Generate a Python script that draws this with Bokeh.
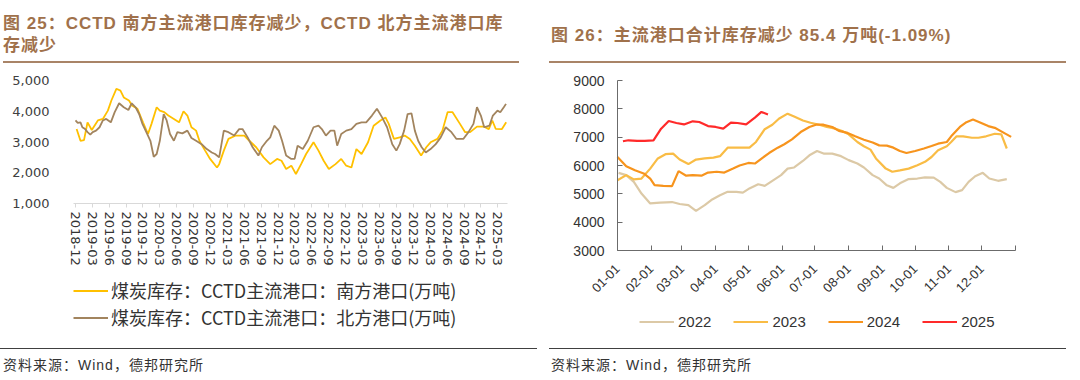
import math
import pandas as pd
from bokeh.plotting import figure
from bokeh.models import (Range1d, FixedTicker, NumeralTickFormatter, DatetimeTickFormatter,
                          Legend, LegendItem, Div)
from bokeh.layouts import row, column
from bokeh.embed import file_html
from bokeh.resources import INLINE

# ---------------- data: left chart (CCTD ports, 万吨) ----------------
south_dates = ["2018-12-07", "2018-12-28", "2019-01-16", "2019-02-04", "2019-02-27", "2019-04-01",
               "2019-04-28", "2019-05-25", "2019-06-13", "2019-07-10", "2019-08-01", "2019-08-19",
               "2019-09-16", "2019-10-04", "2019-11-01", "2019-12-01", "2019-12-28", "2020-01-16",
               "2020-02-13", "2020-03-01", "2020-03-25", "2020-04-16", "2020-05-16", "2020-06-13",
               "2020-07-07", "2020-07-28", "2020-08-19", "2020-09-13", "2020-10-01", "2020-11-01",
               "2020-11-28", "2021-01-04", "2021-01-16", "2021-02-10", "2021-03-07", "2021-04-16",
               "2021-06-01", "2021-06-28", "2021-08-04", "2021-09-13", "2021-10-19", "2021-11-25",
               "2021-12-19", "2022-01-13", "2022-02-10", "2022-03-07", "2022-04-04", "2022-05-01",
               "2022-06-10", "2022-07-07", "2022-08-04", "2022-09-01", "2022-10-07", "2022-11-07",
               "2022-12-04", "2023-01-01", "2023-01-28", "2023-02-25", "2023-04-01", "2023-05-01",
               "2023-06-07", "2023-07-04", "2023-07-22", "2023-08-19", "2023-09-19", "2023-10-16",
               "2023-11-13", "2023-12-10", "2024-01-13", "2024-02-10", "2024-03-04", "2024-04-10",
               "2024-05-07", "2024-06-04", "2024-07-01", "2024-08-10", "2024-09-07", "2024-10-04",
               "2024-11-10", "2024-12-19", "2025-01-13", "2025-02-01", "2025-02-19", "2025-03-25",
               "2025-04-17"]
south_vals = [3420, 3040, 3060, 3640, 3390, 3700,
              3750, 4020, 4350, 4730, 4670, 4450,
              4350, 4180, 4080, 3640, 3260, 3590,
              4130, 4020, 3970, 3860, 3750, 3640,
              4000, 3860, 3480, 3370, 3040, 2720,
              2450, 2170, 2280, 2720, 3100, 3210,
              3210, 3040, 2830, 2500, 2280, 2450,
              2390, 2120, 2230, 1960, 2280, 2610,
              2990, 2720, 2390, 2120, 2280, 2450,
              2230, 2170, 2770, 2610, 2990, 3530,
              3700, 3800, 3590, 3100, 3150, 3210,
              3100, 2880, 2560, 2830, 2990, 3100,
              3370, 3970, 3970, 3590, 3320, 3320,
              3500, 3500, 3420, 3700, 3430, 3420,
              3640]

north_dates = ["2018-12-01", "2018-12-13", "2018-12-28", "2019-01-07", "2019-01-22", "2019-02-04",
               "2019-02-19", "2019-03-04", "2019-03-22", "2019-04-10", "2019-04-28", "2019-05-16",
               "2019-06-10", "2019-07-01", "2019-07-25", "2019-08-19", "2019-09-13", "2019-10-01",
               "2019-10-22", "2019-11-10", "2019-11-28", "2019-12-19", "2020-01-10", "2020-01-28",
               "2020-02-13", "2020-03-01", "2020-03-22", "2020-04-07", "2020-04-25", "2020-05-16",
               "2020-06-04", "2020-07-01", "2020-07-28", "2020-08-19", "2020-09-13", "2020-10-13",
               "2020-11-10", "2020-12-07", "2020-12-25", "2021-01-16", "2021-02-10", "2021-03-07",
               "2021-04-07", "2021-05-04", "2021-05-22", "2021-06-19", "2021-07-16", "2021-08-16",
               "2021-09-04", "2021-10-01", "2021-10-19", "2021-11-10", "2021-12-04", "2021-12-22",
               "2022-01-13", "2022-02-10", "2022-02-28", "2022-03-16", "2022-04-13", "2022-05-10",
               "2022-06-10", "2022-07-07", "2022-07-25", "2022-08-16", "2022-09-10", "2022-10-01",
               "2022-10-16", "2022-11-07", "2022-12-04", "2023-01-01", "2023-01-28", "2023-02-25",
               "2023-03-22", "2023-04-22", "2023-05-19", "2023-06-16", "2023-07-13", "2023-08-10",
               "2023-09-01", "2023-09-19", "2023-10-13", "2023-11-01", "2023-11-22", "2023-12-10",
               "2023-12-28", "2024-01-16", "2024-02-07", "2024-03-04", "2024-04-01", "2024-04-28",
               "2024-05-25", "2024-06-25", "2024-07-22", "2024-08-28", "2024-09-25", "2024-10-22",
               "2024-11-10", "2024-12-01", "2024-12-19", "2025-01-16", "2025-02-04", "2025-03-01",
               "2025-03-16", "2025-04-04", "2025-04-16"]
north_vals = [3700, 3620, 3640, 3480, 3420, 3320,
              3240, 3320, 3370, 3480, 3700, 3750,
              3640, 3970, 4260, 4130, 4040, 4260,
              4130, 3910, 3590, 3320, 3040, 2520,
              2610, 3040, 3910, 3700, 3260, 3040,
              3320, 3280, 3370, 3130, 3040, 2930,
              2770, 2660, 2610, 2500, 3370, 3320,
              3210, 3420, 3420, 3150, 2830, 2560,
              2830, 3040, 3150, 3530, 3370, 3040,
              2560, 2450, 2450, 2880, 2770, 3040,
              3480, 3530, 3420, 3210, 3370, 3370,
              2880, 3260, 3370, 3420, 3590, 3640,
              3640, 3860, 4080, 3800, 3480, 2930,
              2720, 2930, 3370, 3910, 3930, 3370,
              3040, 2830, 2660, 2770, 2930, 3150,
              3480, 3320, 3100, 3100, 3320, 3590,
              4130, 3860, 3480, 3530, 3860, 4020,
              3970, 4130, 4240]

y_ticks_left = [1000, 2000, 3000, 4000, 5000]
legend_left = ["煤炭库存：CCTD主流港口：南方港口(万吨)", "煤炭库存：CCTD主流港口：北方港口(万吨)"]

# ---------------- data: right chart (主流港口合计库存, 万吨) ----------------
day_2022 = [1, 8, 15, 22, 30, 39, 50, 57, 65, 72, 80, 86, 94, 101, 109, 115, 121, 129, 135, 142,
            150, 156, 162, 170, 176, 183, 189, 197, 205, 212, 220, 226, 234, 240, 247, 253, 259,
            267, 275, 282, 290, 296, 302, 310, 316, 322, 328, 335, 341, 349, 357]
inv_2022 = [5740, 5660, 5420, 5010, 4660, 4690, 4710, 4640, 4600, 4400, 4600, 4780, 4950, 5070,
            5070, 5040, 5190, 5340, 5280, 5460, 5660, 5890, 5930, 6160, 6360, 6510, 6420, 6420,
            6330, 6190, 6070, 5930, 5660, 5540, 5300, 5210, 5370, 5520, 5540, 5580, 5570, 5420,
            5210, 5060, 5130, 5420, 5620, 5740, 5540, 5460, 5520]
day_2023 = [0, 8, 15, 22, 30, 37, 44, 51, 57, 65, 72, 80, 88, 94, 101, 109, 116, 121, 127, 135,
            142, 148, 156, 162, 170, 177, 185, 192, 200, 206, 212, 220, 226, 232, 237, 246, 252,
            259, 267, 275, 282, 288, 294, 302, 306, 311, 317, 325, 331, 338, 346, 352, 357]
inv_2023 = [5480, 5660, 5510, 5540, 5890, 6250, 6400, 6420, 6210, 6050, 6210, 6250, 6280, 6330,
            6630, 6630, 6630, 6630, 6830, 7280, 7440, 7650, 7830, 7730, 7590, 7510, 7440, 7360,
            7300, 7220, 7100, 6830, 6680, 6560, 6250, 5890, 5780, 5830, 5890, 6010, 6130, 6300,
            6540, 6680, 6830, 7030, 7030, 6980, 6980, 7030, 7120, 7100, 6600]
day_2024 = [0, 8, 16, 24, 30, 34, 42, 50, 56, 63, 69, 77, 83, 91, 98, 106, 112, 120, 126, 133,
            139, 147, 153, 160, 168, 176, 182, 189, 197, 203, 211, 218, 226, 234, 240, 247, 253,
            259, 265, 273, 281, 288, 294, 302, 306, 314, 320, 326, 332, 340, 346, 354, 361]
inv_2024 = [6300, 5970, 5830, 5720, 5540, 5310, 5280, 5270, 5800, 5640, 5660, 5640, 5750, 5780,
            5750, 5890, 6000, 6090, 6070, 6270, 6440, 6630, 6750, 6920, 7180, 7360, 7440, 7440,
            7360, 7220, 7150, 7030, 6910, 6810, 6710, 6700, 6630, 6510, 6440, 6510, 6600, 6690,
            6770, 6830, 7030, 7360, 7530, 7620, 7530, 7390, 7330, 7160, 7010]
day_2025 = [5, 10, 18, 25, 33, 40, 47, 54, 61, 69, 75, 83, 90, 97, 104, 110, 118, 126, 132, 138]
inv_2025 = [6855, 6890, 6866, 6866, 6890, 7300, 7570, 7500, 7450, 7560, 7535, 7390, 7360, 7300,
            7510, 7500, 7450, 7690, 7890, 7800]

years = ["2022", "2023", "2024", "2025"]
month_starts = [0, 31, 59, 90, 120, 151, 181, 212, 243, 273, 304, 334, 365]
month_labels = ["01-01", "02-01", "03-01", "04-01", "05-01", "06-01", "07-01", "08-01",
                "09-01", "10-01", "11-01", "12-01", ""]
y_ticks_right = [3000, 4000, 5000, 6000, 7000, 8000, 9000]

title_left = "图 25：CCTD 南方主流港口库存减少，CCTD 北方主流港口库<br>存减少"
title_right = "图 26：主流港口合计库存减少 85.4 万吨(-1.09%)"
source_text = "资料来源：Wind，德邦研究所"

# ---------------- styling / layout constants (pixels) ----------------
SANS = "Liberation Sans"
WIDE = "DejaVu Sans"
CJK = "Noto Sans CJK SC"
TITLE_COLOR = "#A0714B"
RULE_COLOR = "#A98467"
TEXT = "#333333"
AXIS_GREY = "#6B6B6B"

TITLE_H = 63          # title band height (underline at its bottom)
FIG_H = 283           # chart band height
SRC_H = 34            # source band height
FRAME_TOP_PAD = 2
FRAME_BOTTOM_PAD = 6
FRAME_TOP_Y = TITLE_H + FRAME_TOP_PAD                # page y of frame top (65)
FRAME_BOTTOM_Y = TITLE_H + FIG_H - FRAME_BOTTOM_PAD  # page y of frame bottom (340)
PANEL_W = 540
EDGE = 3              # frames span almost the whole panel; axes are placed inside


def y_range_for(top_val, top_y, axis_val, axis_y):
    """Range so that top_val sits at page y top_y and axis_val at page y axis_y."""
    per_px = (top_val - axis_val) / (axis_y - top_y)
    return Range1d(axis_val - (FRAME_BOTTOM_Y - axis_y) * per_px,
                   top_val + (top_y - FRAME_TOP_Y) * per_px)


# ---------------- left chart ----------------
L_T0, L_X0 = pd.Timestamp("2018-12-01"), 75      # first tick and its page x
L_T1, L_X1 = pd.Timestamp("2025-03-01"), 497     # last tick and its page x
L_DPP = (L_T1 - L_T0).days / (L_X1 - L_X0)


def left_date(px):
    return L_T0 + pd.Timedelta(days=(px - L_X0) * L_DPP)


p1 = figure(width=PANEL_W, height=FIG_H, x_axis_type="datetime", output_backend="svg",
            toolbar_location=None,
            x_range=Range1d(left_date(EDGE), left_date(PANEL_W - EDGE)),
            y_range=y_range_for(5000, 80, 1000, 203),
            min_border_left=EDGE, min_border_right=EDGE, min_border_top=FRAME_TOP_PAD,
            min_border_bottom=FRAME_BOTTOM_PAD)
p1.outline_line_color = None
p1.grid.grid_line_color = None
p1.background_fill_color = None
p1.border_fill_color = None

r_s = p1.line(pd.to_datetime(south_dates), south_vals, line_color="#FFC000", line_width=1.8)
r_n = p1.line(pd.to_datetime(north_dates), north_vals, line_color="#A2845E", line_width=1.8)

yax = p1.yaxis[0]
yax.fixed_location = left_date(73).timestamp() * 1000
yax.ticker = FixedTicker(ticks=y_ticks_left)
yax.formatter = NumeralTickFormatter(format="0,0")
yax.axis_line_color = None
yax.major_tick_line_color = None
yax.minor_tick_line_color = None
yax.major_label_standoff = 18
yax.major_label_text_font = WIDE
yax.major_label_text_font_size = "13px"
yax.major_label_text_color = "#404040"

tick_dates = pd.date_range("2018-12-01", "2025-03-01", freq="3MS")
xax = p1.xaxis[0]
xax.fixed_location = y_ticks_left[0]
xax.bounds = (left_date(73).to_pydatetime(), left_date(507).to_pydatetime())
xax.ticker = FixedTicker(ticks=[d.timestamp() * 1000 for d in tick_dates])
xax.formatter = DatetimeTickFormatter(days="%Y-%m", months="%Y-%m", years="%Y-%m")
xax.major_label_orientation = "vertical"
xax.axis_line_color = "#D9D9D9"
xax.major_tick_line_color = "#D9D9D9"
xax.minor_tick_line_color = None
xax.major_tick_in = 0
xax.major_tick_out = 4
xax.major_label_standoff = 4
xax.major_label_text_font = WIDE
xax.major_label_text_font_size = "13px"
xax.major_label_text_color = TEXT

leg1 = Legend(items=[LegendItem(label=legend_left[0], renderers=[r_s]),
                     LegendItem(label=legend_left[1], renderers=[r_n])],
              location=(73 - EDGE, 10), orientation="vertical", spacing=1, padding=0, margin=0,
              glyph_width=35, glyph_height=17, label_height=17, label_standoff=3,
              label_text_font=CJK, label_text_font_size="18px", label_text_color=TEXT,
              background_fill_alpha=0, border_line_color=None)
p1.add_layout(leg1, "center")

# ---------------- right chart ----------------
R_X0, R_X1 = 617, 1015            # page x of day 0 and day 365
R_DPP = 365 / (R_X1 - R_X0)


def right_day(px):
    return (px - R_X0) * R_DPP


p2 = figure(width=PANEL_W, height=FIG_H, output_backend="svg", toolbar_location=None,
            x_range=Range1d(right_day(PANEL_W + EDGE), right_day(2 * PANEL_W - EDGE)),
            y_range=y_range_for(9000, 80, 3000, 250),
            min_border_left=EDGE, min_border_right=EDGE, min_border_top=FRAME_TOP_PAD,
            min_border_bottom=FRAME_BOTTOM_PAD)
p2.outline_line_color = None
p2.grid.grid_line_color = None
p2.background_fill_color = None
p2.border_fill_color = None

colors = ["#DCC9A6", "#F9BC45", "#F7941D", "#FF2A2A"]
rs = []
for d, v, c in zip([day_2022, day_2023, day_2024, day_2025],
                   [inv_2022, inv_2023, inv_2024, inv_2025], colors):
    rs.append(p2.line(d, v, line_color=c, line_width=2.2))

ya2 = p2.yaxis[0]
ya2.fixed_location = month_starts[0]
ya2.ticker = FixedTicker(ticks=y_ticks_right)
ya2.bounds = (y_ticks_right[0], y_ticks_right[-1])
ya2.formatter = NumeralTickFormatter(format="0")
ya2.axis_line_color = AXIS_GREY
ya2.major_tick_line_color = AXIS_GREY
ya2.minor_tick_line_color = None
ya2.major_tick_in = 5
ya2.major_tick_out = 0
ya2.major_label_standoff = 13
ya2.major_label_text_font = SANS
ya2.major_label_text_font_size = "14px"
ya2.major_label_text_color = TEXT

xa2 = p2.xaxis[0]
xa2.fixed_location = y_ticks_right[0]
xa2.bounds = (month_starts[0], month_starts[-1])
xa2.ticker = FixedTicker(ticks=month_starts)
xa2.major_label_overrides = {m: lab for m, lab in zip(month_starts, month_labels)}
xa2.major_label_orientation = math.pi / 4
xa2.axis_line_color = AXIS_GREY
xa2.major_tick_line_color = AXIS_GREY
xa2.minor_tick_line_color = None
xa2.major_tick_in = 5
xa2.major_tick_out = 0
xa2.major_label_standoff = 16
xa2.major_label_text_font = SANS
xa2.major_label_text_font_size = "13px"
xa2.major_label_text_color = TEXT

leg2 = Legend(items=[LegendItem(label=y, renderers=[r]) for y, r in zip(years, rs)],
              location=(639 - PANEL_W - EDGE, 10.5), orientation="horizontal", spacing=22,
              padding=0, margin=0,
              glyph_width=35, glyph_height=17, label_height=17, label_standoff=4,
              label_text_font=SANS, label_text_font_size="15px", label_text_color=TEXT,
              background_fill_alpha=0, border_line_color=None)
p2.add_layout(leg2, "center")

# ---------------- titles & sources ----------------
FONT_STACK = "'Liberation Sans','Noto Sans CJK SC',sans-serif"


def title_div(text, ml, w, pt, pl):
    html = (f'<div style="box-sizing:border-box;height:{TITLE_H}px;width:{w}px;margin:0 0 0 {ml}px;'
            f'padding:{pt}px 0 0 {pl}px;border-bottom:2px solid {RULE_COLOR};'
            f'font-family:{FONT_STACK};font-weight:bold;font-size:17px;line-height:22px;'
            f'letter-spacing:1px;color:{TITLE_COLOR};white-space:nowrap;">{text}</div>')
    return Div(text=html, width=PANEL_W, height=TITLE_H, margin=(0, 0, 0, 0))


def source_div(ml, w, pl):
    html = (f'<div style="box-sizing:border-box;width:{w}px;margin:2px 0 0 {ml}px;'
            f'padding:6px 0 0 {pl}px;border-top:1.5px solid #404040;'
            f'font-family:{FONT_STACK};font-size:14px;line-height:20px;letter-spacing:1px;'
            f'color:{TEXT};white-space:nowrap;">{source_text}</div>')
    return Div(text=html, width=PANEL_W, height=SRC_H, margin=(0, 0, 0, 0))


layout = column(
    row(title_div(title_left, 3, 516, 13, 0), title_div(title_right, 9, 517, 25, 2), spacing=0),
    row(p1, p2, spacing=0),
    row(source_div(0, 537, 3), source_div(9, 517, 2), spacing=0),
    spacing=0)

open("out.html", "w").write(file_html(layout, INLINE))
